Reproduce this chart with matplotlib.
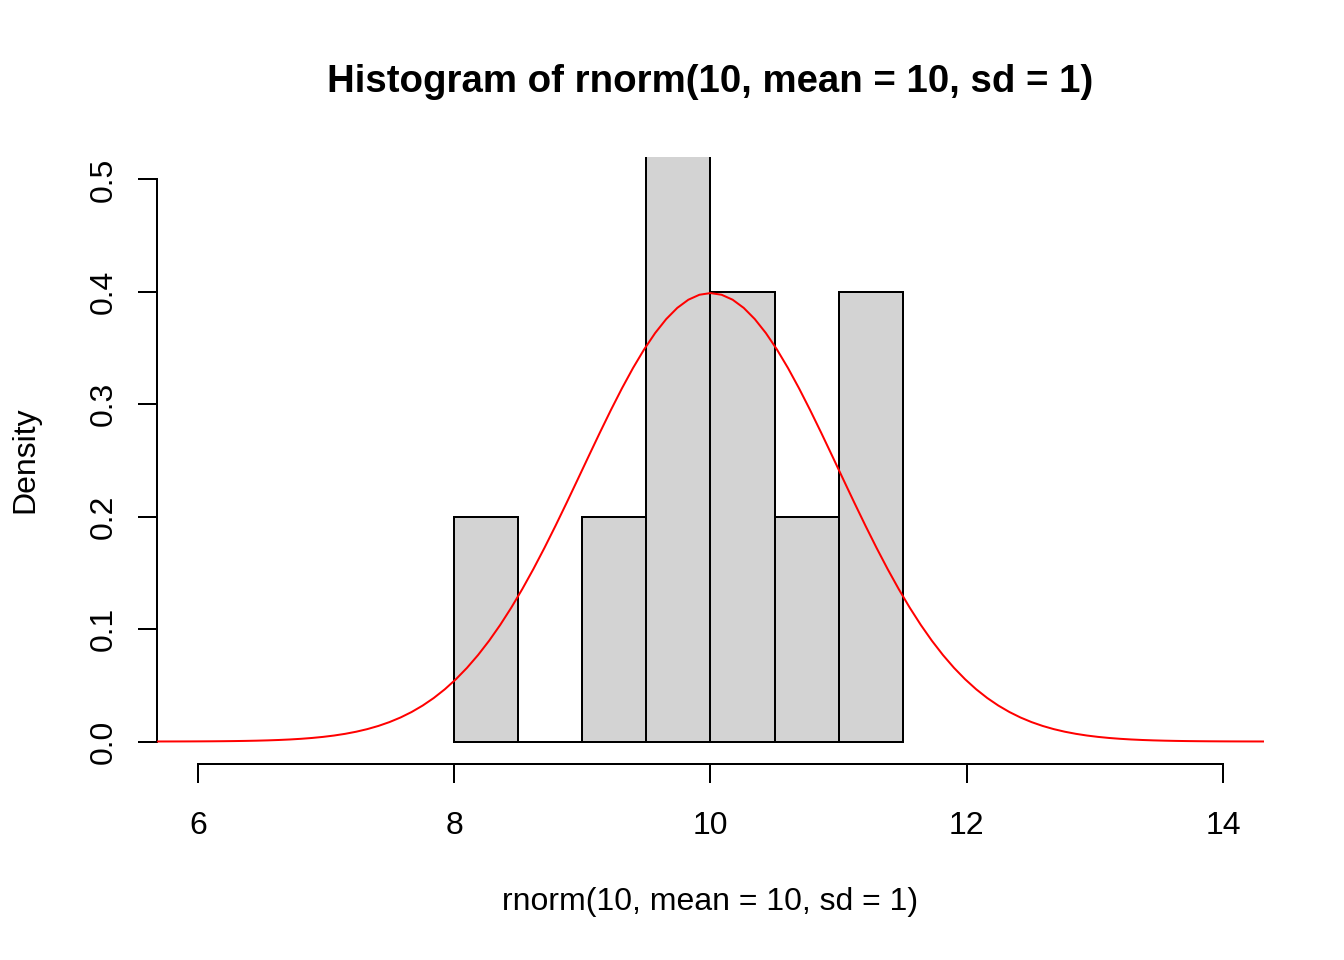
import numpy as np
import matplotlib
matplotlib.use("Agg")
import matplotlib.pyplot as plt

plt.rcParams['font.family'] = ['Liberation Sans', 'DejaVu Sans']

# Data
bin_edges = [8.0, 8.5, 9.0, 9.5, 10.0, 10.5, 11.0, 11.5]
densities = [0.2, 0.0, 0.2, 0.6, 0.4, 0.2, 0.4]
norm_mean = 10.0
norm_sd = 1.0
x_ticks = [6, 8, 10, 12, 14]
y_ticks = [0.0, 0.1, 0.2, 0.3, 0.4, 0.5]
y_tick_labels = ["0.0", "0.1", "0.2", "0.3", "0.4", "0.5"]
title = "Histogram of rnorm(10, mean = 10, sd = 1)"
xlabel = "rnorm(10, mean = 10, sd = 1)"
ylabel = "Density"

W, H = 1344, 960
fig = plt.figure(figsize=(7, 5), dpi=192)
ax = fig.add_axes([157 / W, 1 - 764 / H, (1264 - 157) / W, (764 - 157) / H])

xlim = (5.68, 14.32)
ylim = (-0.02, 0.52)
ax.set_xlim(*xlim)
ax.set_ylim(*ylim)

lefts = bin_edges[:-1]
widths = np.diff(bin_edges)
ax.bar(lefts, densities, width=widths, align='edge', color='#D3D3D3',
       edgecolor='black', linewidth=0.75, zorder=2)

xs = np.linspace(xlim[0], xlim[1], 101)
ys = np.exp(-0.5 * ((xs - norm_mean) / norm_sd) ** 2) / (norm_sd * np.sqrt(2 * np.pi))
ax.plot(xs, ys, color='red', linewidth=0.75, zorder=3)

for s in ['top', 'right']:
    ax.spines[s].set_visible(False)
ax.spines['bottom'].set_bounds(x_ticks[0], x_ticks[-1])
ax.spines['left'].set_bounds(y_ticks[0], y_ticks[-1])
for s in ['bottom', 'left']:
    ax.spines[s].set_linewidth(0.75)

ax.set_xticks(x_ticks)
ax.set_xticklabels([str(t) for t in x_ticks])
ax.set_yticks(y_ticks)
ax.set_yticklabels(y_tick_labels, rotation=90, va='center')
ax.tick_params(axis='both', length=7.2, width=0.75, labelsize=12, color='black')
ax.tick_params(axis='x', pad=10.3)
ax.tick_params(axis='y', pad=7)

fig.text(710 / W, 1 - 82 / H, title, ha='center', va='center',
         fontsize=14.4, fontweight='bold')
fig.text(710 / W, 1 - 902 / H, xlabel, ha='center', va='center', fontsize=12)
fig.text(25 / W, 1 - 460 / H, ylabel, ha='center', va='center', fontsize=12,
         rotation=90)

fig.savefig('out.png', dpi=192)
